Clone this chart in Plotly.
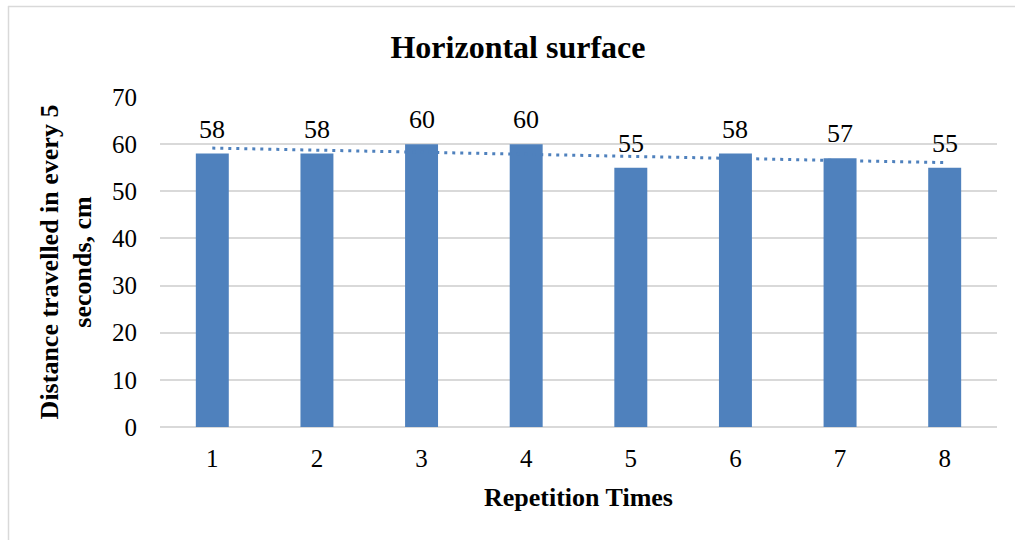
import numpy as np
import plotly.graph_objects as go

repetitions = [1, 2, 3, 4, 5, 6, 7, 8]
tick_labels = ["1", "2", "3", "4", "5", "6", "7", "8"]
distances = [58, 58, 60, 60, 55, 58, 57, 55]

BLUE = "#4F81BD"
GRID = "#D9D9D9"
FONT = "Liberation Serif"

# linear trendline (least squares fit of the data)
slope, intercept = np.polyfit(repetitions, distances, 1)
trend_x = [repetitions[0], repetitions[-1]]
trend_y = [slope * x + intercept for x in trend_x]

fig = go.Figure()
fig.add_trace(go.Bar(
    x=repetitions, y=distances, marker=dict(color=BLUE, line=dict(width=0)),
    width=0.315, showlegend=False, hoverinfo="skip",
))
fig.add_trace(go.Scatter(
    x=trend_x, y=trend_y, mode="lines",
    line=dict(color=BLUE, width=3, dash="3px,5px"),
    showlegend=False, hoverinfo="skip",
))

for x, y in zip(repetitions, distances):
    fig.add_annotation(x=x, y=y, text=str(y), showarrow=False,
                       yanchor="bottom", yshift=8,
                       font=dict(family=FONT, size=26, color="#000000"))

W, H = 1015, 540
L, R, T, B = 160, 18, 97, 113
pw, ph = W - L - R, H - T - B
def px(xp):
    return (xp - L) / pw
def py(yp):
    return (H - B - yp) / ph

# chart border (top and left visible)
fig.add_shape(type="line", xref="paper", yref="paper",
              x0=px(8), x1=px(1016), y0=py(6.5), y1=py(6.5),
              line=dict(color=GRID, width=1.5))
fig.add_shape(type="line", xref="paper", yref="paper",
              x0=px(8.5), x1=px(8.5), y0=py(6), y1=py(541),
              line=dict(color=GRID, width=1.5))

fig.update_layout(
    width=W, height=H,
    margin=dict(l=L, r=R, t=T, b=B, pad=0),
    paper_bgcolor="white", plot_bgcolor="white",
    font=dict(family=FONT, color="#000000"),
    title=dict(text="<b>Horizontal surface</b>", x=518 / W, xanchor="center",
               y=1 - 47 / H, yanchor="middle",
               font=dict(family=FONT, size=32, color="#000000")),
    xaxis=dict(
        range=[0.5, 8.5], tickvals=repetitions, ticktext=tick_labels,
        showgrid=False, zeroline=False, showline=False, ticks="",
        tickfont=dict(family=FONT, size=25, color="#000000"),
        ticklabelstandoff=14,
        title=dict(text="<b>Repetition Times</b>", standoff=16,
                   font=dict(family=FONT, size=26, color="#000000")),
    ),
    yaxis=dict(
        range=[0, 70], dtick=10, showgrid=True, gridcolor=GRID, gridwidth=1.5,
        zeroline=True, zerolinecolor=GRID, zerolinewidth=1.5,
        showline=False, ticks="",
        tickfont=dict(family=FONT, size=25, color="#000000"),
        ticklabelstandoff=22,
        title=dict(text="<b>Distance travelled in every 5<br>seconds, cm</b>",
                   standoff=12,
                   font=dict(family=FONT, size=26, color="#000000")),
    ),
)

fig.write_html("out.html")
